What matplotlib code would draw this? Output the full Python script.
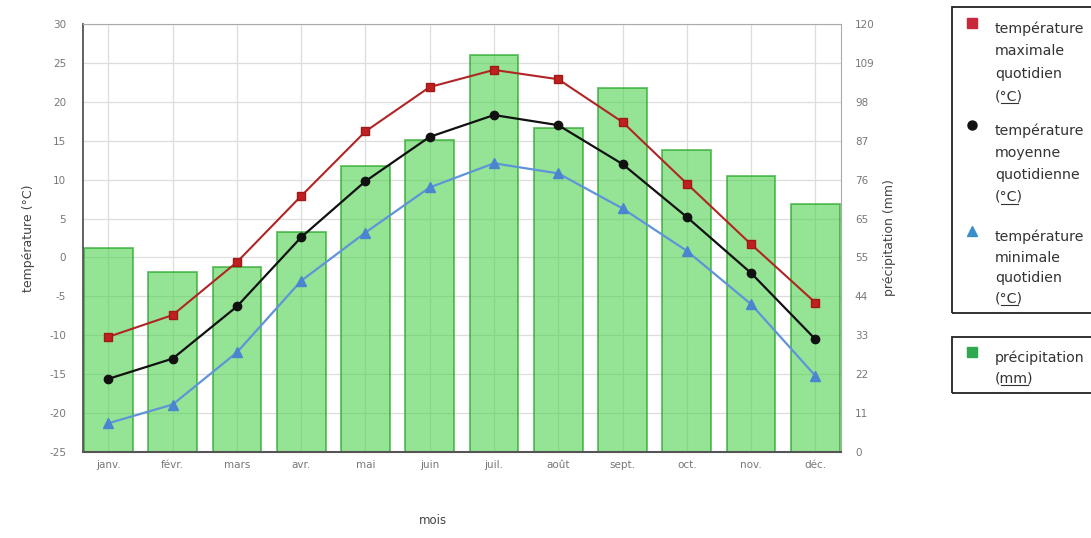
import matplotlib
matplotlib.use("Agg")
import matplotlib.pyplot as plt
from matplotlib.patches import Rectangle
from matplotlib.font_manager import FontProperties
import numpy as np

plt.rcParams["axes.unicode_minus"] = False

months = ["janv.", "févr.", "mars", "avr.", "mai", "juin", "juil.", "août", "sept.", "oct.", "nov.", "déc."]
t_max = [-10.2, -7.4, -0.6, 7.9, 16.2, 21.9, 24.1, 22.9, 17.4, 9.5, 1.7, -5.8]
t_mean = [-15.6, -13.0, -6.3, 2.6, 9.8, 15.5, 18.3, 17.0, 12.0, 5.2, -2.0, -10.5]
t_min = [-21.3, -18.9, -12.2, -3.0, 3.2, 9.0, 12.1, 10.8, 6.3, 0.85, -6.0, -15.2]
precip = [57.3, 50.4, 51.8, 61.8, 80.3, 87.6, 111.3, 90.9, 102.1, 84.7, 77.5, 69.4]

left_ticks = list(range(-25, 31, 5))
right_ticks = list(np.linspace(0, 120, 12))
right_labels = [str(int(np.floor(v + 0.5))) for v in right_ticks]

W, H = 1091, 538
fig = plt.figure(figsize=(W / 100, H / 100), dpi=100)
ax = fig.add_axes([82.7 / W, 1 - 452 / H, (841 - 82.7) / W, (452 - 24) / H])
ax2 = ax.twinx()

x = np.arange(len(months))
tick_color = "#777777"

ax2.set_zorder(0)
ax.set_zorder(1)
ax.patch.set_visible(False)
ax2.bar(x, precip, width=0.76, color="#4fd24f", alpha=0.6, edgecolor="#169e16", linewidth=1.4, zorder=2)
ax2.set_ylim(0, 120)
ax2.set_yticks(right_ticks)
ax2.set_yticklabels(right_labels)

for yt in right_ticks:
    ax2.axhline(yt, color="#dddddd", linewidth=0.9, zorder=1)
for xi in x:
    ax2.axvline(xi, color="#dddddd", linewidth=0.9, zorder=1)
ax2.set_facecolor("white")

ax.plot(x, t_max, color="#b02525", marker="s", markersize=5.5, linewidth=1.5,
        markerfacecolor="#c02020", markeredgecolor="#a01818", zorder=5)
ax.plot(x, t_mean, color="#111111", marker="o", markersize=6, linewidth=1.6, zorder=5)
ax.plot(x, t_min, color="#5f94d8", marker="^", markersize=6.5, linewidth=1.6,
        markerfacecolor="#4a86d0", markeredgecolor="#4a86d0", zorder=5)

ax.set_xlim(-0.4, 11.4)
ax.set_ylim(-25, 30)
ax.set_yticks(left_ticks)
ax.set_xticks(x)
ax.set_xticklabels(months)

for a in (ax, ax2):
    a.tick_params(axis="both", length=0, labelsize=7.5, labelcolor=tick_color)
    for s in a.spines.values():
        s.set_visible(False)
ax.tick_params(axis="y", pad=12)
ax2.tick_params(axis="y", pad=10)
ax.tick_params(axis="x", pad=6)

ax.spines["top"].set_visible(True)
ax.spines["top"].set_color("#aaaaaa")
ax.spines["right"].set_visible(True)
ax.spines["right"].set_color("#aaaaaa")
ax.spines["left"].set_visible(True)
ax.spines["left"].set_color("#555555")
ax.spines["left"].set_linewidth(1.3)
ax.spines["bottom"].set_visible(True)
ax.spines["bottom"].set_color("#555555")
ax.spines["bottom"].set_linewidth(1.5)

ax.set_ylabel("température (°C)", fontsize=9, color="#444444", labelpad=10)
ax2.set_ylabel("précipitation (mm)", fontsize=9, color="#444444", labelpad=6)
fig.text(433 / W, 1 - 521 / H, "mois", fontsize=8.5, color="#444444", ha="center", va="center")

# manual legend boxes
lc = "#333333"
fig.patches.append(Rectangle((952 / W, 1 - 313 / H), 160 / W, (313 - 7) / H,
                             transform=fig.transFigure, fill=False, edgecolor="#222222", linewidth=1.3))
fig.patches.append(Rectangle((952 / W, 1 - 393 / H), 160 / W, (393 - 337) / H,
                             transform=fig.transFigure, fill=False, edgecolor="#222222", linewidth=1.3))

entries = [
    (["température", "maximale", "quotidien", "(°C)"], [29, 51, 74, 96], "s", "#c8283c"),
    (["température", "moyenne", "quotidienne", "(°C)"], [131, 153, 175, 197], "o", "#111111"),
    (["température", "minimale", "quotidien", "(°C)"], [237, 258, 278, 298], "^", "#3a8fc8"),
    (["précipitation", "(mm)"], [358, 378], "s", "#2fa84f"),
]
fs = 10.2
prop = FontProperties(family="DejaVu Sans", size=fs)
renderer = fig.canvas.get_renderer()
wp = renderer.get_text_width_height_descent("(", prop, ismath=False)[0]
for lines, ys, mk, col in entries:
    fig.lines.append(plt.Line2D([972 / W], [1 - (ys[0] - 6) / H], marker=mk, color=col,
                                markersize=6.5, linestyle="none", transform=fig.transFigure))
    for t, yy in zip(lines, ys):
        txt = fig.text(995 / W, 1 - yy / H, t, fontproperties=prop, color=lc, ha="left", va="center")
        if t.startswith("("):
            bb = txt.get_window_extent(renderer=renderer)
            x0 = bb.x0 + wp
            x1 = bb.x1 - wp
            yl = 1 - (yy + 7) / H
            fig.lines.append(plt.Line2D([x0 / W, x1 / W], [yl, yl], color=lc, linewidth=0.8,
                                        transform=fig.transFigure))

fig.savefig("out.png", dpi=100)
